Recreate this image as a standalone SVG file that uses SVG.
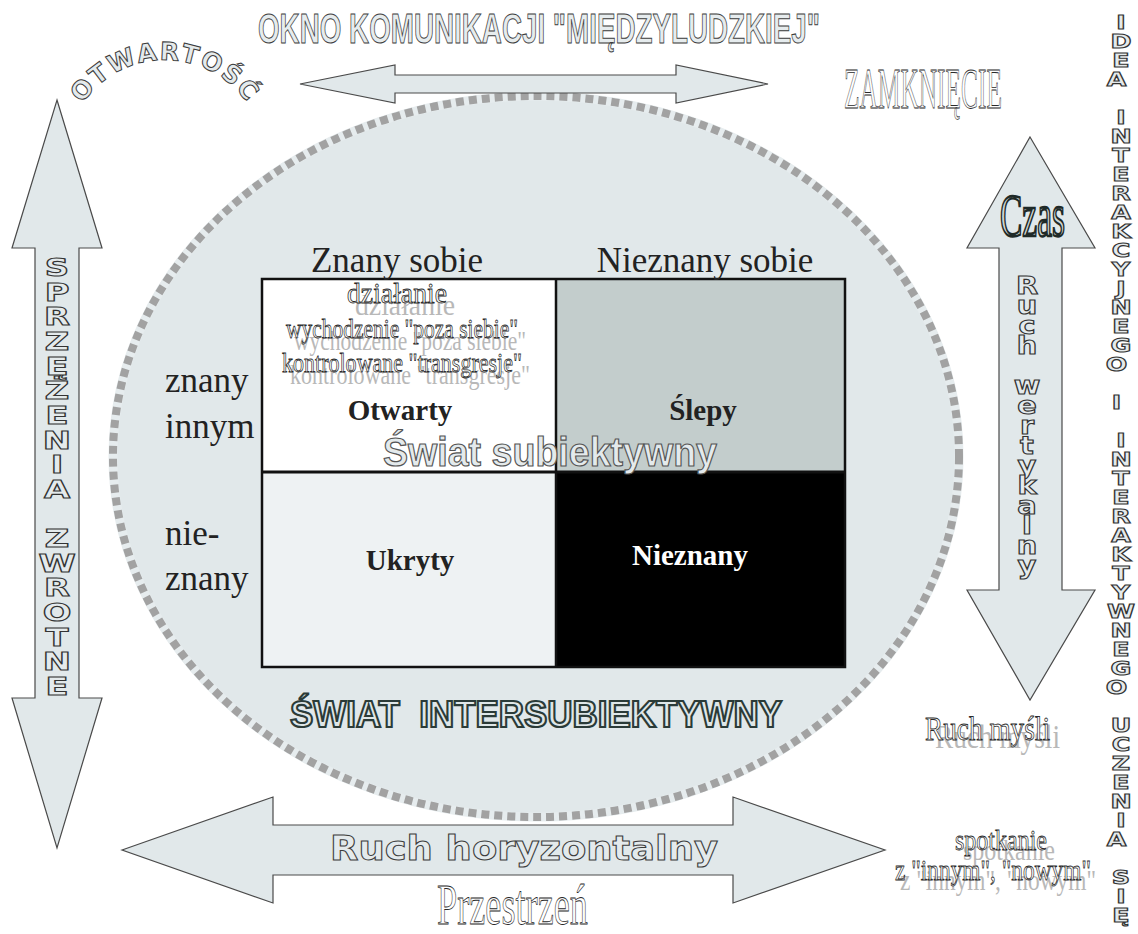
<svg xmlns="http://www.w3.org/2000/svg" width="1138" height="934" viewBox="0 0 1138 934">
<style>
.arrow{fill:#e1e8ea;stroke:#4a4a4a;stroke-width:1.2}
.ol{font-family:"Liberation Sans",Arial,sans-serif;font-weight:bold;fill:#e6ecee;stroke:#3c3c3c;stroke-width:1}
.blk{font-family:"DejaVu Sans",sans-serif;font-weight:bold;fill:#e4eaec;stroke:#3c3c3c;stroke-width:1}
.stack{font-family:"DejaVu Sans",sans-serif;font-weight:bold;fill:#e4eaec;stroke:#333;stroke-width:1.1;text-anchor:middle}
.lab{font-family:"Liberation Serif","Times New Roman",serif;font-size:35px;fill:#222}
.cell{font-family:"Liberation Serif","Times New Roman",serif;font-size:29px;font-weight:bold;fill:#222;text-anchor:middle}
.wa{font-family:"Liberation Serif","Times New Roman",serif;fill:#ffffff;stroke:#2a2a2a;stroke-width:0.8}
.sh{font-family:"Liberation Serif","Times New Roman",serif;fill:#b8b8b8}
</style>

<g id="ellipse-swiat">
  <ellipse cx="536" cy="456.5" rx="423" ry="360.5" fill="#e1e8ea" stroke="#e6ecee" stroke-width="9"/>
  <ellipse cx="536" cy="456.5" rx="423" ry="360.5" fill="none" stroke="#a2a2a2" stroke-width="8" stroke-dasharray="8 5"/>
</g>

<g id="connectors">
  <polygon id="arrow-top" class="arrow" points="300,84 395,65 395,75 676,75 676,65 768,84 676,103 676,93 395,93 395,103"/>
  <polygon id="arrow-left" class="arrow" points="57,100 102,248 79,248 79,698 102,698 57,848 12,698 35,698 35,248 12,248"/>
  <polygon id="arrow-right" class="arrow" points="1030,137 1095,248 1062,248 1062,590 1095,590 1030,700 967,590 999,590 999,248 967,248"/>
  <polygon id="arrow-bottom" class="arrow" points="122,850 273,797 273,825 733,825 733,797 885,850 733,903 733,875 273,875 273,903"/>
</g>

<g id="title">
  <text class="ol" x="258" y="43" font-size="42" textLength="562" lengthAdjust="spacingAndGlyphs">OKNO KOMUNIKACJI "MIĘDZYLUDZKIEJ"</text>
</g>

<g id="otwartosc">
  <defs><path id="arcO" d="M 76.7 113.1 A 100 100 0 0 1 253.3 113.1"/></defs>
  <text class="blk" font-size="25" letter-spacing="2" stroke-width="1.1"><textPath href="#arcO" startOffset="50%" text-anchor="middle">OTWARTOŚĆ</textPath></text>
</g>

<g id="zamkniecie">
  <text class="wa" x="844" y="108" font-size="56" textLength="158" lengthAdjust="spacingAndGlyphs">ZAMKNIĘCIE</text>
</g>

<g id="grid">
  <rect x="262" y="279" width="294" height="193" fill="#ffffff"/>
  <rect x="556" y="279" width="289" height="193" fill="#c3cdcc"/>
  <rect x="262" y="472" width="294" height="195" fill="#eef2f3"/>
  <rect x="556" y="472" width="289" height="195" fill="#000000"/>
  <rect x="262" y="279" width="583" height="388" fill="none" stroke="#111" stroke-width="2.5"/>
  <line x1="262" y1="472" x2="845" y2="472" stroke="#111" stroke-width="3"/>
  <line x1="556" y1="279" x2="556" y2="667" stroke="#111" stroke-width="2.5"/>
</g>

<g id="labels">
  <text class="lab" x="397" y="272" text-anchor="middle">Znany sobie</text>
  <text class="lab" x="705" y="272" text-anchor="middle">Nieznany sobie</text>
  <text class="lab" x="165" y="392">znany</text>
  <text class="lab" x="165" y="438">innym</text>
  <text class="lab" x="165" y="545">nie-</text>
  <text class="lab" x="165" y="590">znany</text>
</g>

<g id="otwarty-notes">
  <text class="sh" x="405" y="315" font-size="29" text-anchor="middle" textLength="100" lengthAdjust="spacingAndGlyphs">działanie</text>
  <text class="wa" x="397" y="303" font-size="29" text-anchor="middle" textLength="100" lengthAdjust="spacingAndGlyphs">działanie</text>
  <text class="sh" x="410" y="350" font-size="28" text-anchor="middle" textLength="232" lengthAdjust="spacingAndGlyphs">wychodzenie "poza siebie"</text>
  <text class="wa" x="402" y="338" font-size="28" text-anchor="middle" textLength="232" lengthAdjust="spacingAndGlyphs">wychodzenie "poza siebie"</text>
  <text class="sh" x="410" y="384" font-size="28" text-anchor="middle" textLength="240" lengthAdjust="spacingAndGlyphs">kontrolowane "transgresje"</text>
  <text class="wa" x="402" y="372" font-size="28" text-anchor="middle" textLength="240" lengthAdjust="spacingAndGlyphs">kontrolowane "transgresje"</text>
</g>

<g id="cell-otwarty"><text class="cell" x="400" y="420">Otwarty</text></g>
<g id="cell-slepy"><text class="cell" x="703" y="420">Ślepy</text></g>
<g id="cell-ukryty"><text class="cell" x="410" y="570">Ukryty</text></g>
<g id="cell-nieznany"><text class="cell" x="690" y="565" style="fill:#ffffff">Nieznany</text></g>

<g id="swiat-subiektywny">
  <text class="ol" x="383" y="466" font-size="40" textLength="334" lengthAdjust="spacingAndGlyphs" style="fill:#e4eaec;stroke:#555;stroke-width:1.2">Świat subiektywny</text>
</g>

<g id="swiat-intersubiektywny">
  <text class="ol" x="290" y="727" font-size="37" textLength="492" lengthAdjust="spacingAndGlyphs" style="fill:#dfe7e8;stroke:#2b3b38;stroke-width:2.2">ŚWIAT&#160;&#160;INTERSUBIEKTYWNY</text>
</g>

<g id="sprzezenia">
  <text class="stack" font-size="25" transform="translate(57 0) scale(1.35 1) translate(-57 0)">
    <tspan x="57" y="276">S</tspan><tspan x="57" y="300.7">P</tspan><tspan x="57" y="325.3">R</tspan><tspan x="57" y="350">Z</tspan><tspan x="57" y="374.6">Ę</tspan><tspan x="57" y="399.3">Ż</tspan><tspan x="57" y="423.9">E</tspan><tspan x="57" y="448.6">N</tspan><tspan x="57" y="473.2">I</tspan><tspan x="57" y="497.9">A</tspan><tspan x="57" y="547.2">Z</tspan><tspan x="57" y="571.8">W</tspan><tspan x="57" y="596.5">R</tspan><tspan x="57" y="621.1">O</tspan><tspan x="57" y="645.8">T</tspan><tspan x="57" y="670.4">N</tspan><tspan x="57" y="695.1">E</tspan>
  </text>
</g>

<g id="czas">
  <text x="1000" y="236" font-size="62" textLength="65" lengthAdjust="spacingAndGlyphs" style="font-family:'Liberation Serif',serif;fill:#cfd8d6;stroke:#1f2a28;stroke-width:2.4">Czas</text>
</g>

<g id="ruch-wertykalny">
  <text class="stack" font-size="24" transform="translate(1027 0) scale(1.2 1) translate(-1027 0)">
    <tspan x="1027" y="294">R</tspan><tspan x="1027" y="314">u</tspan><tspan x="1027" y="334">c</tspan><tspan x="1027" y="354">h</tspan><tspan x="1027" y="394">w</tspan><tspan x="1027" y="414">e</tspan><tspan x="1027" y="434">r</tspan><tspan x="1027" y="454">t</tspan><tspan x="1027" y="474">y</tspan><tspan x="1027" y="494">k</tspan><tspan x="1027" y="514">a</tspan><tspan x="1027" y="534">l</tspan><tspan x="1027" y="554">n</tspan><tspan x="1027" y="574">y</tspan>
  </text>
</g>

<g id="idea">
  <text class="stack" font-size="19.5" stroke-width="1" transform="translate(1121 0) scale(1.3 1) translate(-1121 0)">
    <tspan x="1121" y="29">I</tspan><tspan x="1121" y="48">D</tspan><tspan x="1121" y="67">E</tspan><tspan x="1121" y="86">A</tspan>
    <tspan x="1121" y="124">I</tspan><tspan x="1121" y="143">N</tspan><tspan x="1121" y="162">T</tspan><tspan x="1121" y="181">E</tspan><tspan x="1121" y="200">R</tspan><tspan x="1121" y="219">A</tspan><tspan x="1121" y="238">K</tspan><tspan x="1121" y="257">C</tspan><tspan x="1121" y="276">Y</tspan><tspan x="1121" y="295">J</tspan><tspan x="1121" y="314">N</tspan><tspan x="1121" y="333">E</tspan><tspan x="1121" y="352">G</tspan><tspan x="1121" y="371">O</tspan>
    <tspan x="1121" y="409">I</tspan>
    <tspan x="1121" y="447">I</tspan><tspan x="1121" y="466">N</tspan><tspan x="1121" y="485">T</tspan><tspan x="1121" y="504">E</tspan><tspan x="1121" y="523">R</tspan><tspan x="1121" y="542">A</tspan><tspan x="1121" y="561">K</tspan><tspan x="1121" y="580">T</tspan><tspan x="1121" y="599">Y</tspan><tspan x="1121" y="618">W</tspan><tspan x="1121" y="637">N</tspan><tspan x="1121" y="656">E</tspan><tspan x="1121" y="675">G</tspan><tspan x="1121" y="694">O</tspan>
    <tspan x="1121" y="732">U</tspan><tspan x="1121" y="751">C</tspan><tspan x="1121" y="770">Z</tspan><tspan x="1121" y="789">E</tspan><tspan x="1121" y="808">N</tspan><tspan x="1121" y="827">I</tspan><tspan x="1121" y="846">A</tspan>
    <tspan x="1121" y="884">S</tspan><tspan x="1121" y="903">I</tspan><tspan x="1121" y="922">Ę</tspan>
  </text>
</g>

<g id="ruch-mysli">
  <text class="sh" x="935" y="748" font-size="33" textLength="125" lengthAdjust="spacingAndGlyphs">Ruch myśli</text>
  <text class="wa" x="925" y="740" font-size="33" textLength="125" lengthAdjust="spacingAndGlyphs">Ruch myśli</text>
</g>

<g id="spotkanie">
  <text class="sh" x="963" y="860" font-size="30" textLength="92" lengthAdjust="spacingAndGlyphs">spotkanie</text>
  <text class="wa" x="955" y="850" font-size="30" textLength="92" lengthAdjust="spacingAndGlyphs">spotkanie</text>
  <text class="sh" x="900" y="890" font-size="30" textLength="196" lengthAdjust="spacingAndGlyphs">z "innym", "nowym"</text>
  <text class="wa" x="895" y="880" font-size="30" textLength="196" lengthAdjust="spacingAndGlyphs">z "innym", "nowym"</text>
</g>

<g id="ruch-horyzontalny">
  <text class="blk" x="330" y="860" font-size="33" textLength="388" lengthAdjust="spacingAndGlyphs" stroke-width="1.1">Ruch horyzontalny</text>
</g>

<g id="przestrzen">
  <text class="wa" x="437" y="924" font-size="58" textLength="151" lengthAdjust="spacingAndGlyphs">Przestrzeń</text>
</g>
</svg>
